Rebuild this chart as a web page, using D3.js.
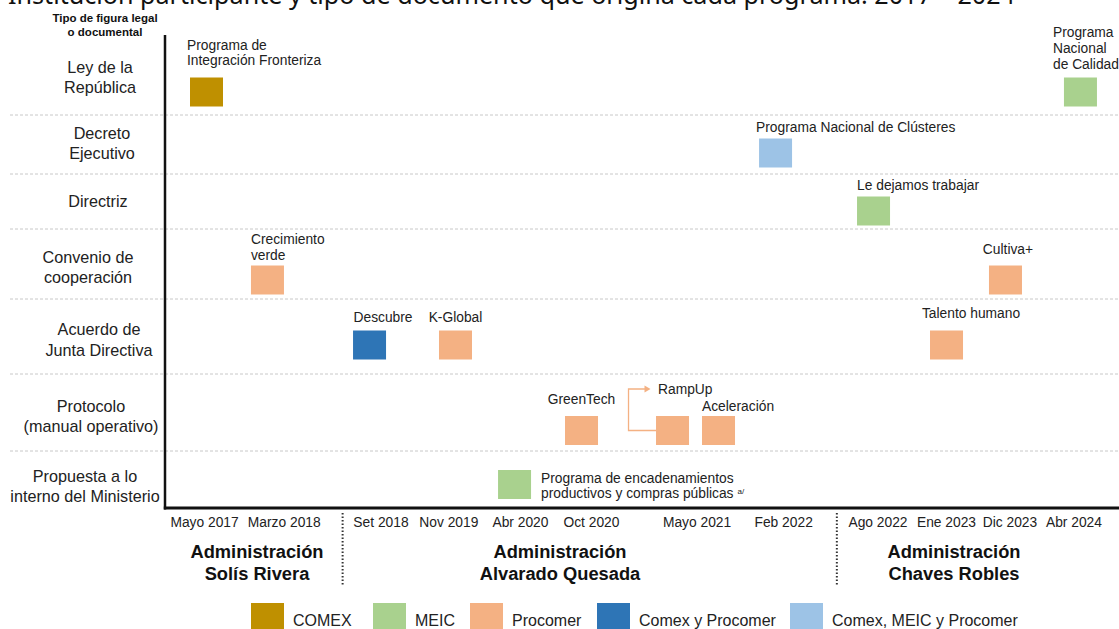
<!DOCTYPE html>
<html><head><meta charset="utf-8">
<script src="https://cdn.jsdelivr.net/npm/d3@7"></script>
<style>
html,body{margin:0;padding:0;background:#fff;}
svg{display:block;font-family:"Liberation Sans",Arial,sans-serif;}
</style></head>
<body><svg id="chart" width="1119" height="629"></svg>
<script>
// ---------- DATA ----------
const title = "Institución participante y tipo de documento que origina cada programa. 2017 – 2024";
const yAxisTitle = ["Tipo de figura legal", "o documental"];
const documentTypes = [
  "Ley de la República", "Decreto Ejecutivo", "Directriz", "Convenio de cooperación",
  "Acuerdo de Junta Directiva", "Protocolo (manual operativo)", "Propuesta a lo interno del Ministerio"
];
const dateLabels = ["Mayo 2017","Marzo 2018","Set 2018","Nov 2019","Abr 2020","Oct 2020",
                    "Mayo 2021","Feb 2022","Ago 2022","Ene 2023","Dic 2023","Abr 2024"];
const institutions = ["COMEX","MEIC","Procomer","Comex y Procomer","Comex, MEIC y Procomer"];
const programNames = [
  "Programa de Integración Fronteriza","Crecimiento verde","Descubre","K-Global",
  "Programa de encadenamientos productivos y compras públicas","GreenTech","RampUp","Aceleración",
  "Programa Nacional de Clústeres","Le dejamos trabajar","Talento humano","Cultiva+","Programa Nacional de Calidad"
];
const programDate = ["Mayo 2017","Marzo 2018","Set 2018","Nov 2019","Abr 2020","Oct 2020",
                     "Mayo 2021","Mayo 2021","Feb 2022","Ago 2022","Ene 2023","Dic 2023","Abr 2024"];
const programType = [
  "Ley de la República","Convenio de cooperación","Acuerdo de Junta Directiva","Acuerdo de Junta Directiva",
  "Propuesta a lo interno del Ministerio","Protocolo (manual operativo)","Protocolo (manual operativo)","Protocolo (manual operativo)",
  "Decreto Ejecutivo","Directriz","Acuerdo de Junta Directiva","Convenio de cooperación","Ley de la República"
];
const programInstitution = ["COMEX","Procomer","Comex y Procomer","Procomer","MEIC","Procomer","Procomer","Procomer",
                            "Comex, MEIC y Procomer","MEIC","Procomer","Procomer","MEIC"];
const administrations = [
  {name:["Administración","Solís Rivera"], from:"Mayo 2017", to:"Marzo 2018"},
  {name:["Administración","Alvarado Quesada"], from:"Set 2018", to:"Feb 2022"},
  {name:["Administración","Chaves Robles"], from:"Ago 2022", to:"Abr 2024"}
];

// ---------- LAYOUT ----------
const W = 1119, H = 629;
const axisLeft = 165, axisBottom = 508, axisTop = 35;
// timeline position (0–100) of each date tick and each program square
const tickAt = {"Mayo 2017":4.15,"Marzo 2018":12.5,"Set 2018":22.64,"Nov 2019":29.75,"Abr 2020":37.26,"Oct 2020":44.7,
  "Mayo 2021":55.77,"Feb 2022":64.85,"Ago 2022":74.74,"Ene 2023":81.92,"Dic 2023":88.57,"Abr 2024":95.28};
const squareAt = [4.35,10.74,21.44,30.45,36.64,43.66,53.2,58.02,64.0,74.27,81.92,88.1,95.96];
const rowEdges = [35,115,174,229,299,374,451,508];
const rowCenterSq = [92,153,211,280,345,430.5,484.5];
const rowLabelLines = [["Ley de la","República"],["Decreto","Ejecutivo"],["Directriz"],["Convenio de","cooperación"],
  ["Acuerdo de","Junta Directiva"],["Protocolo","(manual operativo)"],["Propuesta a lo","interno del Ministerio"]];
const rowLabelY = [[67,87],[133,153],[201],[257,277],[329,350],[406,426],[476,496]];
const rowLabelX = [100,102,98,88,99,91,85];
// label layout per program: lines, anchor, x offset from square left, baselines
const labelLayout = [
  {lines:["Programa de","Integración Fronteriza"], anchor:"start", dx:-3, ys:[50,65]},
  {lines:["Crecimiento","verde"], anchor:"start", dx:0, ys:[244,260]},
  {lines:["Descubre"], anchor:"middle", dx:30, ys:[322]},
  {lines:["K-Global"], anchor:"middle", dx:16.5, ys:[322]},
  {lines:["Programa de encadenamientos","productivos y compras públicas"], anchor:"start", dx:43, ys:[483,498], sup:"a/"},
  {lines:["GreenTech"], anchor:"middle", dx:16.5, ys:[404]},
  {lines:["RampUp"], anchor:"start", dx:2, ys:[394]},
  {lines:["Aceleración"], anchor:"start", dx:0, ys:[411]},
  {lines:["Programa Nacional de Clústeres"], anchor:"start", dx:-3, ys:[132]},
  {lines:["Le dejamos trabajar"], anchor:"start", dx:0, ys:[190]},
  {lines:["Talento humano"], anchor:"middle", dx:41, ys:[318]},
  {lines:["Cultiva+"], anchor:"middle", dx:19, ys:[254]},
  {lines:["Programa","Nacional","de Calidad"], anchor:"start", dx:-11, ys:[37,53,69]}
];
const sqW = 33, sqH = 29;
const colors = d3.scaleOrdinal().domain(institutions)
  .range(["#bf9000","#a9d18e","#f4b183","#2e75b6","#9dc3e6"]);

// ---------- SCALES ----------
const x = d3.scaleLinear().domain([0,100]).range([axisLeft, W]);
const yRow = d3.scaleOrdinal().domain(documentTypes).range(rowCenterSq);

const svg = d3.select("#chart");

// title (cropped at top as in the reference)
svg.append("text").attr("x",8).attr("y",4).attr("font-family","'Noto Sans',sans-serif")
  .attr("font-size",25).attr("fill","#111").attr("textLength",1007).attr("lengthAdjust","spacingAndGlyphs")
  .text(title);

// y axis title
svg.append("g").selectAll("text").data(yAxisTitle).join("text")
  .attr("x",105).attr("y",(d,i)=>22+i*13.5).attr("text-anchor","middle")
  .attr("font-size",11.5).attr("font-weight","bold").attr("fill","#111").text(d=>d);

// row separators
svg.append("g").selectAll("line").data(rowEdges.slice(1,-1)).join("line")
  .attr("x1",10).attr("x2",W).attr("y1",d=>d).attr("y2",d=>d)
  .attr("stroke","#c8c8c8").attr("stroke-width",1).attr("stroke-dasharray","3,2");

// row labels
const rl = svg.append("g");
documentTypes.forEach((t,i)=>{
  rowLabelLines[i].forEach((ln,j)=>{
    rl.append("text").attr("x",rowLabelX[i]).attr("y",rowLabelY[i][j]+5.5).attr("text-anchor","middle")
      .attr("font-size",16.2).attr("fill","#222").text(ln);
  });
});

// axes lines
svg.append("line").attr("x1",axisLeft).attr("x2",axisLeft).attr("y1",axisTop).attr("y2",axisBottom+1.5)
  .attr("stroke","#111").attr("stroke-width",2.5);
svg.append("line").attr("x1",axisLeft-1.2).attr("x2",W).attr("y1",axisBottom).attr("y2",axisBottom)
  .attr("stroke","#111").attr("stroke-width",3);

// date ticks
svg.append("g").selectAll("text").data(dateLabels).join("text")
  .attr("x",d=>x(tickAt[d])).attr("y",527).attr("text-anchor","middle")
  .attr("font-size",13.8).attr("fill","#222").text(d=>d);

// administration separators (between consecutive administrations)
const sepX = [ (x(tickAt["Marzo 2018"])+x(tickAt["Set 2018"]))/2 + 10, (x(tickAt["Feb 2022"])+x(tickAt["Ago 2022"]))/2 + 6 ];
svg.append("g").selectAll("line").data(sepX).join("line")
  .attr("x1",d=>d).attr("x2",d=>d).attr("y1",513).attr("y2",586)
  .attr("stroke","#333").attr("stroke-width",2).attr("stroke-dasharray","1.5,2");

// administration labels
const adminCx = [257,560,954];
administrations.forEach((a,i)=>{
  a.name.forEach((ln,j)=>{
    svg.append("text").attr("x",adminCx[i]).attr("y",557.5+j*22).attr("text-anchor","middle")
      .attr("font-size",18.3).attr("font-weight","bold").attr("fill","#111").text(ln);
  });
});

// connector arrow GreenTech → RampUp
const iGT = programNames.indexOf("GreenTech"), iRU = programNames.indexOf("RampUp");
const ax = x(squareAt[iGT]) + 47, rampLeft = x(squareAt[iRU]) - sqW/2;
const yMid = yRow(programType[iRU]);
svg.append("path")
  .attr("d",`M${rampLeft},${yMid} H${ax} V${389} H${ax+17}`)
  .attr("fill","none").attr("stroke","#f4b183").attr("stroke-width",1.3);
svg.append("path").attr("d",`M${ax+22},389 l-6,-3.5 v7 z`).attr("fill","#f4b183");

// squares
const prog = programNames.map((n,i)=>({name:n, date:programDate[i], type:programType[i], inst:programInstitution[i], pos:squareAt[i], lay:labelLayout[i]}));
svg.append("g").selectAll("rect").data(prog).join("rect")
  .attr("x",d=>x(d.pos)-sqW/2).attr("y",d=>yRow(d.type)-sqH/2)
  .attr("width",sqW).attr("height",sqH).attr("fill",d=>colors(d.inst));

// program labels
const pl = svg.append("g");
prog.forEach(d=>{
  const left = x(d.pos)-sqW/2;
  d.lay.lines.forEach((ln,j)=>{
    const t = pl.append("text").attr("x",left+d.lay.dx).attr("y",d.lay.ys[j])
      .attr("text-anchor",d.lay.anchor).attr("font-size",13.8).attr("fill","#222").text(ln);
    if (d.lay.sup && j===d.lay.lines.length-1) {
      t.append("tspan").attr("dx",4).attr("dy",-4).attr("font-size",8).text(d.lay.sup);
    }
  });
});

// legend
const legX = [251,373,470,597,790];
const lg = svg.append("g").selectAll("g").data(institutions).join("g")
  .attr("transform",(d,i)=>`translate(${legX[i]},603)`);
lg.append("rect").attr("width",33).attr("height",28).attr("fill",d=>colors(d));
lg.append("text").attr("x",42).attr("y",23).attr("font-size",16).attr("fill","#222").text(d=>d);
</script></body></html>
